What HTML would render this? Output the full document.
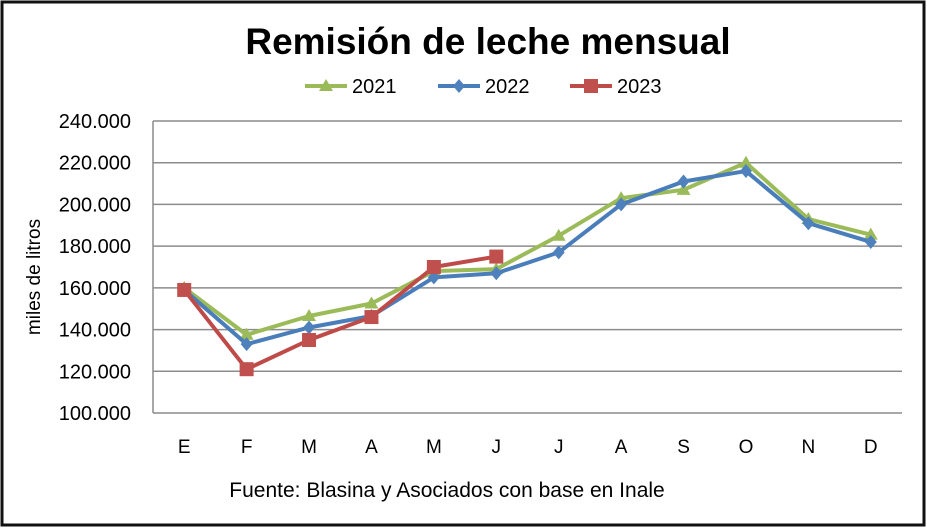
<!DOCTYPE html>
<html><head><meta charset="utf-8"><style>
html,body{margin:0;padding:0;background:#fff}
#c{position:relative;width:927px;height:528px;overflow:hidden}
text{font-family:"Liberation Sans",Calibri,sans-serif}
</style></head><body>
<div id="c">
<svg id="svg" width="927" height="528" xmlns="http://www.w3.org/2000/svg">
<rect x="2" y="2" width="922" height="523" fill="#fff" stroke="#111" stroke-width="3"/>
<text x="488" y="54" text-anchor="middle" font-size="37" font-weight="bold" fill="#000">Remisión de leche mensual</text>
<text transform="translate(40,277) rotate(-90)" text-anchor="middle" font-size="19" fill="#000">miles de litros</text>
<text x="447" y="497" text-anchor="middle" font-size="21" fill="#000">Fuente: Blasina y Asociados con base en Inale</text>
<g id="grid"></g><g id="series"></g><g id="legend"></g>
</svg>
</div>
<script>
const categories=["E","F","M","A","M","J","J","A","S","O","N","D"];
const yTicks=[100000,120000,140000,160000,180000,200000,220000,240000];
const seriesNames=["2021","2022","2023"];
const s2021=[160000,137500,146500,152500,168000,169000,185000,203000,207000,220000,193000,185500];
const s2022=[159000,133000,141000,146500,165000,167000,177000,200000,211000,216000,191000,182000];
const s2023=[159000,121000,135000,146000,170000,175000];
const NS="http://www.w3.org/2000/svg";
const L=153,R=902,T=121,B=413,yMin=100000,yMax=240000;
const step=(R-L)/categories.length;
const xs=i=>L+step*(i+0.5);
const ys=v=>B-(v-yMin)/(yMax-yMin)*(B-T);
function mk(tag,attrs,parent){const e=document.createElementNS(NS,tag);for(const k in attrs)e.setAttribute(k,attrs[k]);parent.appendChild(e);return e;}
const grid=document.getElementById('grid');
yTicks.forEach(v=>{
 const ln=mk('line',{x1:L,x2:R,y1:ys(v),y2:ys(v),stroke:'#8c8c8c','stroke-width':1.5},grid);
 
 
 const t=mk('text',{x:L-22,y:ys(v)+7,'text-anchor':'end','font-size':20,fill:'#000'},grid);
 t.textContent=v.toLocaleString('de-DE');
 
 
});
const ax=mk('line',{x1:L,x2:L,y1:T,y2:B,stroke:'#8c8c8c','stroke-width':1.5},grid);


categories.forEach((c,i)=>{
 const t=mk('text',{x:xs(i),y:B+40,'text-anchor':'middle','font-size':19,fill:'#000'},grid);
 t.textContent=c;
 
 
});
const colors=["#9bbb59","#4f81bd","#c0504d"];
const lineCols=["#9bbb59","#4a7ebb","#be4b48"];
const data=[s2021,s2022,s2023];
function marker(kind,x,y,col,parent){
 let e;
 if(kind===0)e=mk('polygon',{points:`${x},${y-7} ${x+7},${y+5} ${x-7},${y+5}`,fill:col},parent);
 else if(kind===1)e=mk('polygon',{points:`${x},${y-7} ${x+6},${y} ${x},${y+7} ${x-6},${y}`,fill:col},parent);
 else e=mk('rect',{x:x-7,y:y-7,width:14,height:14,fill:col},parent);
 return e;
}
const sg=document.getElementById('series');
data.forEach((arr,si)=>{
 const g=mk('g',{},sg);
 
 
 const p=mk('polyline',{points:arr.map((v,i)=>xs(i)+','+ys(v)).join(' '),fill:'none',stroke:lineCols[si],'stroke-width':4,'stroke-linejoin':'round'},g);
 
 
 arr.forEach((v,i)=>{
  const m=marker(si,xs(i),ys(v),colors[si],g);
  
  
 });
});
const lg=document.getElementById('legend');
const lx=[305,438,570];
seriesNames.forEach((n,si)=>{
 const g=mk('g',{},lg);
 
 
 mk('line',{x1:lx[si],x2:lx[si]+42,y1:86,y2:86,stroke:lineCols[si],'stroke-width':4},g);
 marker(si,lx[si]+21,86,colors[si],g);
 const t=mk('text',{x:lx[si]+47,y:93,'font-size':20,fill:'#000'},g);
 t.textContent=n;
});
</script>
</body></html>
